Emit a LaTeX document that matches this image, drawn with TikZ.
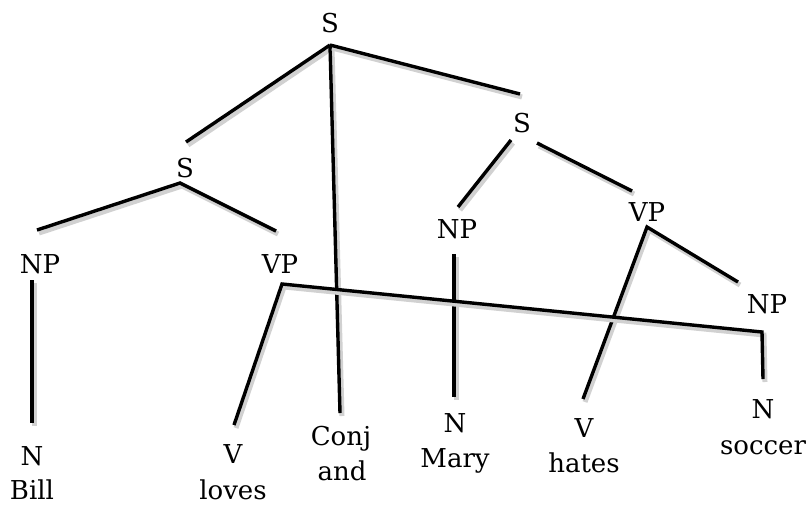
\documentclass[tikz,border=0pt]{standalone}
\usepackage{fontspec}
\setmainfont{DejaVu Serif}
\begin{document}
\begin{tikzpicture}[x=1pt,y=-1pt,
  lbl/.style={anchor=base,inner sep=0pt,font=\fontsize{26}{32}\selectfont},
  edge/.style={line width=3.4pt,line cap=butt,line join=miter,
    preaction={draw=black!18,line width=5pt,transform canvas={shift={(2pt,-3pt)}}}}]
\path[use as bounding box] (0,0) rectangle (809,504);
% labels
\node[lbl] (s0) at (330,32) {S};
\node[lbl] (s1) at (185,177) {S};
\node[lbl] (s2) at (522,132) {S};
\node[lbl] (np1) at (40,273) {NP};
\node[lbl] (vp1) at (280,273) {VP};
\node[lbl] (np2) at (457,238) {NP};
\node[lbl] (vp2) at (647,221) {VP};
\node[lbl] (np3) at (767,313) {NP};
\node[lbl] (n1) at (32,465) {N};
\node[lbl] (w1) at (32,499) {Bill};
\node[lbl] (v1) at (233,463) {V};
\node[lbl] (w2) at (233,499) {loves};
\node[lbl] (cj) at (341,445) {Conj};
\node[lbl] (w3) at (342,480) {and};
\node[lbl] (n2) at (455,432) {N};
\node[lbl] (w4) at (455,467) {Mary};
\node[lbl] (v2) at (584,437) {V};
\node[lbl] (w5) at (584,472) {hates};
\node[lbl] (n3) at (763,418) {N};
\node[lbl] (w6) at (763,454) {soccer};
% connector end points
\coordinate (s0b) at (330,45);
\coordinate (s1t) at (186,142);
\coordinate (cjt) at (340,413);
\coordinate (s2t) at (520,94);
\coordinate (s2l) at (511,140);
\coordinate (np2t) at (458,207);
\coordinate (s2r) at (537,143);
\coordinate (vp2t) at (632,191);
\coordinate (vp2b) at (647,227);
\coordinate (np3t) at (738,282);
\coordinate (v2t) at (583,399);
\coordinate (np2b) at (454,254);
\coordinate (n2t) at (454,397);
\coordinate (s1b) at (180,183);
\coordinate (np1t) at (37,230);
\coordinate (vp1t) at (276,231);
\coordinate (np1b) at (32,280);
\coordinate (n1t) at (32,423);
\coordinate (vp1b) at (282,284);
\coordinate (v1t) at (234,425);
\coordinate (np3b) at (762,332);
\coordinate (n3t) at (763,379);
% connectors
\draw[edge] (s0b) -- (s1t);
\draw[edge] (s0b) -- (cjt);
\draw[edge] (s0b) -- (s2t);
\draw[edge] (s2l) -- (np2t);
\draw[edge] (s2r) -- (vp2t);
\draw[edge] (np3t) -- (vp2b) -- (v2t);
\draw[edge] (np2b) -- (n2t);
\draw[edge] (np1t) -- (s1b) -- (vp1t);
\draw[edge] (np1b) -- (n1t);
\draw[edge] (v1t) -- (vp1b) -- (np3b) -- (n3t);
\end{tikzpicture}
\end{document}
